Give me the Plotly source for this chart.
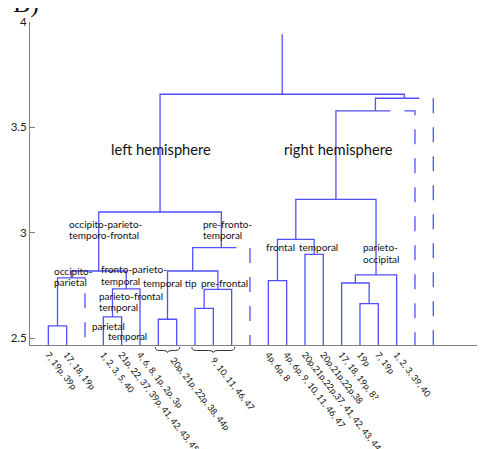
import plotly.graph_objects as go

# ---------------- data ----------------
leaf_labels = [
    "7, 19p, 39p", "17, 18, 19p", "", "1, 2, 3, 5, 40",
    "21p, 22, 37, 39p, 41, 42, 43, 45?", "4, 6, 8, 1p, 2p, 3p",
    "", "", "", "", "", "",
    "4p, 6p, 8", "4p, 6p, 9, 10, 11, 46, 47", "20p,21p,22p,37, 41, 42, 43, 44",
    "20p,21p,22p,38", "17, 18, 19p, 8?", "19p", "7, 19p", "1, 2, 3, 39, 40", "", "",
]
dashed_leaves = [2, 11, 20, 21]
group_labels = ["20p, 21p, 22p, 38, 44p", "9, 10, 11, 46, 47"]
group_leaves = [[6, 7], [8, 9, 10]]

# linkage: ids < 22 are leaves, id 22+j is merge j
merge_left = [0, 22, 3, 24, 23, 6, 8, 28, 27, 30, 26, 12, 14, 33, 17, 16, 37, 35, 39, 40, 32]
merge_right = [1, 2, 4, 5, 25, 7, 9, 10, 29, 11, 31, 13, 15, 34, 18, 36, 19, 38, 20, 21, 41]
merge_height = [2.558, 2.785, 2.600, 2.733, 2.818, 2.589, 2.641, 2.731, 2.818, 2.929,
                 3.098, 2.772, 2.897, 2.968, 2.663, 2.761, 2.800, 3.158, 3.578, 3.638, 3.657]
root_top = 3.942

y_ticks = [2.5, 3, 3.5, 4]
y_ticktext = ["2.5", "3", "3.5", "4"]

# ---------------- geometry / style ----------------
OFF = 8  # page body margin of the html page
W, H = 485 - OFF, 449 - OFF
ML, MR, MT, MB = 30 - OFF, 0, 22 - OFF, 104
YMIN, YMAX = 2.4668, 4.0
XMIN, XMAX = 0.0, 24.82
plot_w = W - ML - MR
plot_h = H - MT - MB

# helpers: page pixel -> data / paper coordinates
def px2x(px):
    return XMIN + (px - OFF - ML) / plot_w * (XMAX - XMIN)

def py2y(py):
    return YMAX - (py - OFF - MT) / plot_h * (YMAX - YMIN)

def px2paper(px):
    return (px - OFF - ML) / plot_w

def py2paper(py):
    return (H - MB - (py - OFF)) / plot_h

BLUE = "rgb(80,80,255)"
LW = 1.3
FONT = "Lato, 'Open Sans', sans-serif"

n = len(leaf_labels)
xpos = {i: i + 1 for i in range(n)}
hpos = {i: YMIN for i in range(n)}
for j, (l, r, h) in enumerate(zip(merge_left, merge_right, merge_height)):
    xpos[n + j] = (xpos[l] + xpos[r]) / 2
    hpos[n + j] = h

fig = go.Figure()
sx, sy = [], []
dashed_paths = []
for j, (l, r, h) in enumerate(zip(merge_left, merge_right, merge_height)):
    xl, xr, xc = xpos[l], xpos[r], xpos[n + j]
    if r in dashed_leaves:
        sx += [xl, xl, xc, None]
        sy += [hpos[l], h, h, None]
        dashed_paths.append(([xc, xr, xr], [h, h, hpos[r]]))
    else:
        sx += [xl, xl, xr, xr, None]
        sy += [hpos[l], h, h, hpos[r], None]
root = n + len(merge_height) - 1
sx += [xpos[root], xpos[root]]
sy += [hpos[root], root_top]

fig.add_trace(go.Scatter(x=sx, y=sy, mode="lines", line=dict(color=BLUE, width=LW),
                         hoverinfo="skip", showlegend=False))
for px_, py_ in dashed_paths:
    fig.add_trace(go.Scatter(x=px_, y=py_, mode="lines",
                             line=dict(color=BLUE, width=LW, dash="15px,14px"),
                             hoverinfo="skip", showlegend=False))

# tick labels for leaves and groups
tickvals, ticktext = [], []
for i, t in enumerate(leaf_labels):
    if t:
        tickvals.append(xpos[i])
        ticktext.append(t)
group_shift = [0.1, -0.2]
for g, t, s in zip(group_leaves, group_labels, group_shift):
    tickvals.append(sum(xpos[i] for i in g) / len(g) + s)
    ticktext.append("\u00a0\u00a0\u00a0" + t)

# braces under groups
shapes = []
for g in group_leaves:
    x0 = xpos[g[0]] - 0.17
    x1 = xpos[g[-1]] + 0.17
    xm = (x0 + x1) / 2
    d = 0.25
    yt, ym, yp = py2paper(347.0), py2paper(350.5), py2paper(352.5)
    path = (f"M{x0},{yt} Q{x0},{ym} {x0+d},{ym} L{xm-d},{ym} Q{xm},{ym} {xm},{yp} "
            f"Q{xm},{ym} {xm+d},{ym} L{x1-d},{ym} Q{x1},{ym} {x1},{yt}")
    shapes.append(dict(type="path", xref="x", yref="paper", path=path,
                       line=dict(color="#333333", width=1)))

# text annotations (reference page pixel positions converted to data coordinates)
small = [
    ("occipito-parieto-", 68.3, 224.3), ("temporo-frontal", 68.3, 235.0),
    ("pre-fronto-", 202.3, 224.3), ("temporal", 202.3, 235.0),
    ("occipito-", 53.3, 271.0), ("parietal", 53.3, 282.0),
    ("fronto-parieto-", 100.0, 269.3), ("temporal", 100.0, 280.7),
    ("temporal tip", 141.7, 283.3), ("pre-frontal", 200.0, 283.3),
    ("parieto-", 98.3, 296.0), ("frontal", 133.3, 296.0), ("temporal", 98.3, 307.3),
    ("parietal", 90.7, 325.7), ("temporal", 107.3, 336.0),
    ("frontal", 265.0, 246.7), ("temporal", 297.7, 246.7),
    ("parieto-", 361.7, 247.3), ("occipital", 361.7, 259.0),
]
annotations = []
for t, x, y in small:
    annotations.append(dict(text=t, x=px2x(x - 1), y=py2y(y), xref="x", yref="y",
                            xanchor="left", yanchor="middle", showarrow=False,
                            font=dict(family=FONT, size=10, color="#111111")))
for t, x, y in [("left hemisphere", 161, 149), ("right hemisphere", 338, 149)]:
    annotations.append(dict(text=t, x=px2x(x), y=py2y(y), xref="x", yref="y",
                            xanchor="center", yanchor="middle", showarrow=False,
                            font=dict(family=FONT, size=14.7, color="#111111")))
annotations.append(dict(text="B)", x=px2paper(11), y=py2paper(20),
                        xref="paper", yref="paper",
                        xanchor="left", yanchor="bottom", showarrow=False,
                        font=dict(family="Liberation Serif, serif", size=26, color="#111111")))

fig.update_layout(
    width=W, height=H,
    margin=dict(l=ML, r=MR, t=MT, b=MB, pad=0),
    paper_bgcolor="white", plot_bgcolor="white",
    showlegend=False,
    shapes=shapes, annotations=annotations,
    xaxis=dict(range=[XMIN, XMAX], showgrid=False, zeroline=False, automargin=False,
               showline=True, linecolor="#7f7f7f", linewidth=1,
               tickmode="array", tickvals=tickvals, ticktext=ticktext,
               ticks="", tickangle=52,
               tickfont=dict(family=FONT, size=9, color="#111111")),
    yaxis=dict(range=[YMIN, YMAX], showgrid=False, zeroline=False, automargin=False,
               showline=True, linecolor="#7f7f7f", linewidth=1,
               tickmode="array", tickvals=y_ticks, ticktext=y_ticktext,
               ticks="inside", ticklen=5, tickcolor="#7f7f7f",
               tickfont=dict(family=FONT, size=11.5, color="#222222")),
)

fig.write_html("out.html")
